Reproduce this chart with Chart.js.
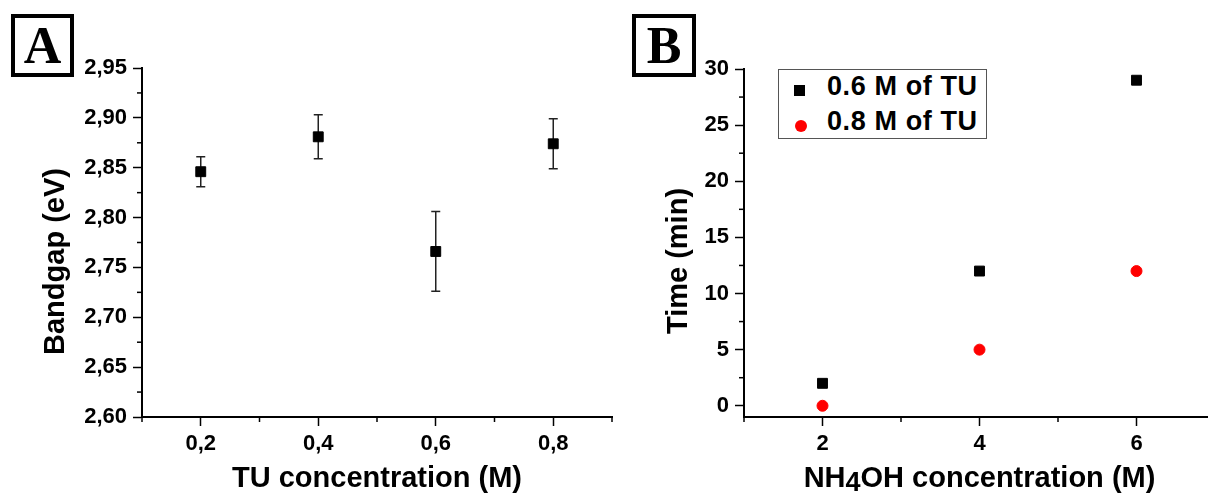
<!DOCTYPE html>
<html>
<head>
<meta charset="utf-8">
<script src="https://cdn.jsdelivr.net/npm/chart.js@4.4.1/dist/chart.umd.min.js"></script>
<style>
html, body { margin: 0; padding: 0; background: #fff; overflow: hidden; width: 1208px; height: 496px; }
#wrapA { position: absolute; left: 0; top: 0; width: 630px; height: 496px; }
#wrapB { position: absolute; left: 630px; top: 0; width: 610px; height: 496px; }
.tag { position: absolute; top: 14px; box-sizing: border-box; height: 63px; border: 4px solid #000;
       font: bold 52px "Liberation Serif", "Times New Roman", serif; text-align: center; line-height: 55px; background: #fff; }
#legendB { position: absolute; left: 778px; top: 69px; width: 209px; height: 70px; box-sizing: border-box;
           border: 1.5px solid #555; background: #fff; font: bold 27px "Liberation Sans", Arial, sans-serif; }
.leg-row { position: absolute; left: 0; height: 27px; line-height: 27px; width: 200px; }
.leg-mark { position: absolute; }
.leg-text { position: absolute; left: 48px; top: 0; letter-spacing: 0.6px; white-space: nowrap; }
</style>
</head>
<body>
<div id="wrapA"><canvas id="chartA" width="630" height="496"></canvas></div>
<div id="wrapB"><canvas id="chartB" width="610" height="496"></canvas></div>
<div class="tag" style="left:11px;width:63px;">A</div>
<div class="tag" style="left:632px;width:64px;">B</div>
<div id="legendB"></div>

<script>
// Panel A - bandgap vs TU concentration
const tuConc = [0.2, 0.4, 0.6, 0.8];
const bandgap = [2.846, 2.881, 2.766, 2.874];
const bandgapErr = [0.015, 0.022, 0.040, 0.025];

const xTicksA = [0.2, 0.4, 0.6, 0.8];
const xLabelsA = ['0,2', '0,4', '0,6', '0,8'];
const xMinorA = [0.1, 0.3, 0.5, 0.7, 0.9];
const yTicksA = [2.60, 2.65, 2.70, 2.75, 2.80, 2.85, 2.90, 2.95];
const yLabelsA = ['2,60', '2,65', '2,70', '2,75', '2,80', '2,85', '2,90', '2,95'];
const yMinorA = [2.625, 2.675, 2.725, 2.775, 2.825, 2.875, 2.925];

// Panel B - time vs NH4OH concentration
const nh4ohConc = [2, 4, 6];
const seriesNamesB = ['0.6 M of TU', '0.8 M of TU'];
const time06 = [2, 12, 29];
const time08 = [0, 5, 12];

const xTicksB = [2, 4, 6];
const xLabelsB = ['2', '4', '6'];
const xMinorB = [1, 3, 5, 7];
const yTicksB = [0, 5, 10, 15, 20, 25, 30];
const yLabelsB = ['0', '5', '10', '15', '20', '25', '30'];
const yMinorB = [2.5, 7.5, 12.5, 17.5, 22.5, 27.5];

const FONT = '"Liberation Sans", Arial, sans-serif';

// error bars drawn under the markers
const errorBars = {
    id: 'errorBars',
    beforeDatasetsDraw(chart, args, opts) {
        if (!opts.errors) return;
        const {ctx, scales: {x, y}} = chart;
        const pts = chart.data.datasets[0].data;
        ctx.save();
        ctx.strokeStyle = '#222';
        ctx.lineWidth = 1.5;
        pts.forEach((p, i) => {
            const px = x.getPixelForValue(p.x);
            const top = y.getPixelForValue(p.y + opts.errors[i]);
            const bot = y.getPixelForValue(p.y - opts.errors[i]);
            ctx.beginPath();
            ctx.moveTo(px, top); ctx.lineTo(px, bot);
            ctx.moveTo(px - 4.5, top); ctx.lineTo(px + 4.5, top);
            ctx.moveTo(px - 4.5, bot); ctx.lineTo(px + 4.5, bot);
            ctx.stroke();
        });
        ctx.restore();
    }
};

// short minor tick marks, Origin style
const minorTicks = {
    id: 'minorTicks',
    afterDraw(chart, args, opts) {
        const ctx = chart.ctx;
        ctx.save();
        ctx.strokeStyle = '#000';
        ctx.lineWidth = 1.5;
        ['x', 'y'].forEach(id => {
            const s = chart.scales[id];
            (opts[id] || []).forEach(v => {
                const p = s.getPixelForValue(v);
                ctx.beginPath();
                if (id === 'x') { ctx.moveTo(p, s.top); ctx.lineTo(p, s.top + 5); }
                else { ctx.moveTo(s.right, p); ctx.lineTo(s.right - 5, p); }
                ctx.stroke();
            });
        });
        ctx.restore();
    }
};

// y title sits a bit below the middle of the axis in the original;
// x title of panel B gets a lowered, nearly full-size subscript
const titleTweaks = {
    id: 'titleTweaks',
    beforeDraw(chart, args, opts) {
        const y = chart.scales.y;
        if (y && !y._patched) {
            const orig = y.drawTitle;
            y.drawTitle = function () {
                chart.ctx.save();
                chart.ctx.translate(0, opts.dy || 0);
                orig.call(this);
                chart.ctx.restore();
            };
            y._patched = true;
        }
        const x = chart.scales.x;
        if (opts.sub && x && !x._patched) {
            x.drawTitle = function () {
                const ctx = chart.ctx;
                const t = this.options.title;
                const txt = t.text;
                const a = txt.slice(0, opts.sub.start);
                const b = txt.slice(opts.sub.start, opts.sub.start + opts.sub.len);
                const c = txt.slice(opts.sub.start + opts.sub.len);
                const size = t.font.size;
                const main = 'bold ' + size + 'px ' + FONT;
                const small = 'bold ' + opts.sub.size + 'px ' + FONT;
                ctx.save();
                ctx.fillStyle = t.color;
                ctx.textBaseline = 'middle';
                ctx.textAlign = 'left';
                ctx.font = main;
                const wa = ctx.measureText(a).width, wc = ctx.measureText(c).width;
                ctx.font = small;
                const wb = ctx.measureText(b).width;
                const cx = (this.left + this.right) / 2;
                const cy = this.bottom - size * 1.2 / 2;
                let px = cx - (wa + wb + wc) / 2;
                ctx.font = main; ctx.fillText(a, px, cy); px += wa;
                ctx.font = small; ctx.fillText(b, px, cy + opts.sub.dy); px += wb;
                ctx.font = main; ctx.fillText(c, px, cy);
                ctx.restore();
            };
            x._patched = true;
        }
    }
};

function axis(opts) {
    const all = opts.major.concat(opts.minor).sort((a, b) => a - b);
    return {
        type: 'linear',
        min: opts.min,
        max: opts.max,
        afterFit: opts.fit,
        afterBuildTicks: s => { s.ticks = all.map(v => ({value: v})); },
        border: { color: '#000', width: 2 },
        grid: {
            drawOnChartArea: false,
            tickLength: 9,
            tickWidth: 1.5,
            tickColor: c => opts.major.includes(c.tick.value) ? '#000' : 'rgba(0,0,0,0)'
        },
        ticks: {
            autoSkip: false,
            maxRotation: 0,
            padding: opts.pad,
            color: '#000',
            font: { family: FONT, size: 22, weight: 'bold' },
            callback: v => {
                const i = opts.major.indexOf(v);
                return i >= 0 ? opts.labels[i] : '';
            }
        },
        title: {
            display: true,
            text: opts.title,
            color: '#000',
            font: { family: FONT, size: 29, weight: 'bold' },
            padding: opts.titlePad
        }
    };
}

new Chart(document.getElementById('chartA'), {
    type: 'scatter',
    data: {
        datasets: [{
            label: 'Bandgap',
            data: tuConc.map((c, i) => ({x: c, y: bandgap[i]})),
            pointStyle: 'rect',
            pointRadius: 7,
            backgroundColor: '#000',
            borderColor: '#000',
            borderWidth: 1
        }]
    },
    options: {
        responsive: false,
        animation: false,
        layout: { padding: { top: 68, right: 18, left: 0, bottom: 0 } },
        plugins: {
            legend: { display: false },
            tooltip: { enabled: false },
            errorBars: { errors: bandgapErr },
            minorTicks: { x: xMinorA, y: yMinorA },
            titleTweaks: { dy: 19 }
        },
        scales: {
            x: axis({ min: 0.1, max: 0.9, major: xTicksA, minor: xMinorA, labels: xLabelsA, pad: 5,
                      title: 'TU concentration (M)', titlePad: { top: 0, bottom: 0 },
                      fit: s => { s.height = 79; } }),
            y: axis({ min: 2.60, max: 2.95, major: yTicksA, minor: yMinorA, labels: yLabelsA, pad: 6,
                      title: 'Bandgap (eV)', titlePad: { top: 39, bottom: 0 },
                      fit: s => { s.width = 142; } })
        }
    },
    plugins: [errorBars, minorTicks, titleTweaks]
});

const chartB = new Chart(document.getElementById('chartB'), {
    type: 'scatter',
    data: {
        datasets: [{
            label: seriesNamesB[0],
            data: nh4ohConc.map((c, i) => ({x: c, y: time06[i]})),
            pointStyle: 'rect',
            pointRadius: 7,
            backgroundColor: '#000',
            borderColor: '#000',
            borderWidth: 1
        }, {
            label: seriesNamesB[1],
            data: nh4ohConc.map((c, i) => ({x: c, y: time08[i]})),
            pointStyle: 'circle',
            pointRadius: 5.5,
            backgroundColor: '#ff0000',
            borderColor: '#ff0000',
            borderWidth: 1
        }]
    },
    options: {
        responsive: false,
        animation: false,
        layout: { padding: { top: 69, right: 25, left: 0, bottom: 0 } },
        plugins: {
            legend: { display: false },
            tooltip: { enabled: false },
            minorTicks: { x: xMinorB, y: yMinorB },
            titleTweaks: { dy: 18, sub: { start: 2, len: 1, size: 27, dy: 5 } }
        },
        scales: {
            x: axis({ min: 1, max: 7, major: xTicksB, minor: xMinorB, labels: xLabelsB, pad: 5,
                      title: 'NH4OH concentration (M)', titlePad: { top: 0, bottom: 0 },
                      fit: s => { s.height = 79; } }),
            y: axis({ min: -1, max: 30, major: yTicksB, minor: yMinorB, labels: yLabelsB, pad: 6,
                      title: 'Time (min)', titlePad: { top: 32, bottom: 0 },
                      fit: s => { s.width = 114; } })
        }
    },
    plugins: [minorTicks, titleTweaks]
});

// legend box inside panel B, built from the datasets
const legendB = document.getElementById('legendB');
chartB.data.datasets.forEach((ds, i) => {
    const row = document.createElement('div');
    row.className = 'leg-row';
    row.style.top = (3.3 + i * 35) + 'px';
    const mk = document.createElement('span');
    mk.className = 'leg-mark';
    mk.style.background = ds.backgroundColor;
    if (ds.pointStyle === 'circle') {
        mk.style.width = '12px'; mk.style.height = '12px'; mk.style.borderRadius = '50%';
        mk.style.left = '15.5px'; mk.style.top = '12.2px';
    } else {
        mk.style.width = '11px'; mk.style.height = '11px';
        mk.style.left = '15px'; mk.style.top = '11.7px';
    }
    const tx = document.createElement('span');
    tx.className = 'leg-text';
    tx.textContent = ds.label;
    row.appendChild(mk);
    row.appendChild(tx);
    legendB.appendChild(row);
});
</script>
</body>
</html>
